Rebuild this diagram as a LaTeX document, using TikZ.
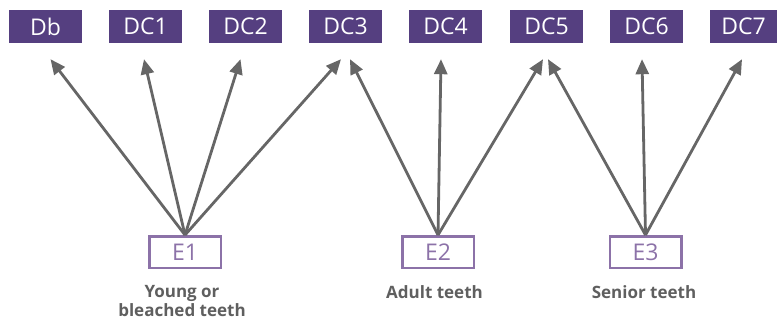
\documentclass[tikz,border=0pt]{standalone}
\usepackage{fontspec}
\setmainfont{Open Sans}
\usetikzlibrary{arrows.meta,positioning,calc}
\definecolor{dcpurple}{HTML}{553F80}
\definecolor{epurple}{HTML}{8C72A8}
\definecolor{arrowgray}{HTML}{666666}
\definecolor{labelgray}{HTML}{5F5F5F}

\begin{document}
\begin{tikzpicture}[x=1pt, y=-1pt,
    dcbox/.style={fill=dcpurple, text=white, minimum width=73pt, minimum height=33pt, inner sep=0pt, font=\fontsize{23}{23}\selectfont},
    ebox/.style={draw=epurple, line width=2.5pt, text=epurple, minimum width=71.5pt, minimum height=31.5pt, inner sep=0pt, font=\fontsize{23}{23}\selectfont},
    grouplabel/.style={text=labelgray, align=center, inner sep=0pt, font=\bfseries\fontsize{17}{19}\selectfont},
    link/.style={draw=arrowgray, line width=2.8pt, -{Triangle[length=15pt, width=13pt]}}]
    \useasboundingbox (0,0) rectangle (778,321);

    % Shade classes
    \node[dcbox] (db) at (45.5, 26.5) {Db};
    \node[dcbox] (dc1) at (145.5, 26.5) {DC1};
    \node[dcbox] (dc2) at (245.5, 26.5) {DC2};
    \node[dcbox] (dc3) at (345.5, 26.5) {DC3};
    \node[dcbox] (dc4) at (445.5, 26.5) {DC4};
    \node[dcbox] (dc5) at (546.5, 26.5) {DC5};
    \node[dcbox] (dc6) at (646.5, 26.5) {DC6};
    \node[dcbox, minimum width=67pt] (dc7) at (743.5, 26.5) {DC7};

    % Groups
    \node[ebox] (e1) at (185, 252) {E1};
    \node[ebox] (e2) at (438, 252) {E2};
    \node[ebox] (e3) at (645.5, 252) {E3};

    \node[grouplabel] (young) at (182, 301.5) {Young or\\bleached teeth};
    \node[grouplabel] (adult) at (434.5, 292) {Adult teeth};
    \node[grouplabel] (senior) at (644, 292) {Senior teeth};

    % Arrows
    \draw[link] (e1.north) -- ($(db.south)+(5,16)$);
    \draw[link] (e1.north) -- ($(dc1.south)+(-1.5,16)$);
    \draw[link] (e1.north) -- ($(dc2.south)+(-5,16)$);
    \draw[link] (e1.north) -- ($(dc3.south)+(-4.5,16)$);

    \draw[link] (e2.north) -- ($(dc3.south)+(4.5,16)$);
    \draw[link] (e2.north) -- ($(dc4.south)+(-4.5,16)$);
    \draw[link] (e2.north) -- ($(dc5.south)+(-3.5,16)$);

    \draw[link] (e3.north) -- ($(dc5.south)+(1.5,16)$);
    \draw[link] (e3.north) -- ($(dc6.south)+(-4.5,16)$);
    \draw[link] (e3.north) -- ($(dc7.south)+(-1.5,16)$);
\end{tikzpicture}
\end{document}
